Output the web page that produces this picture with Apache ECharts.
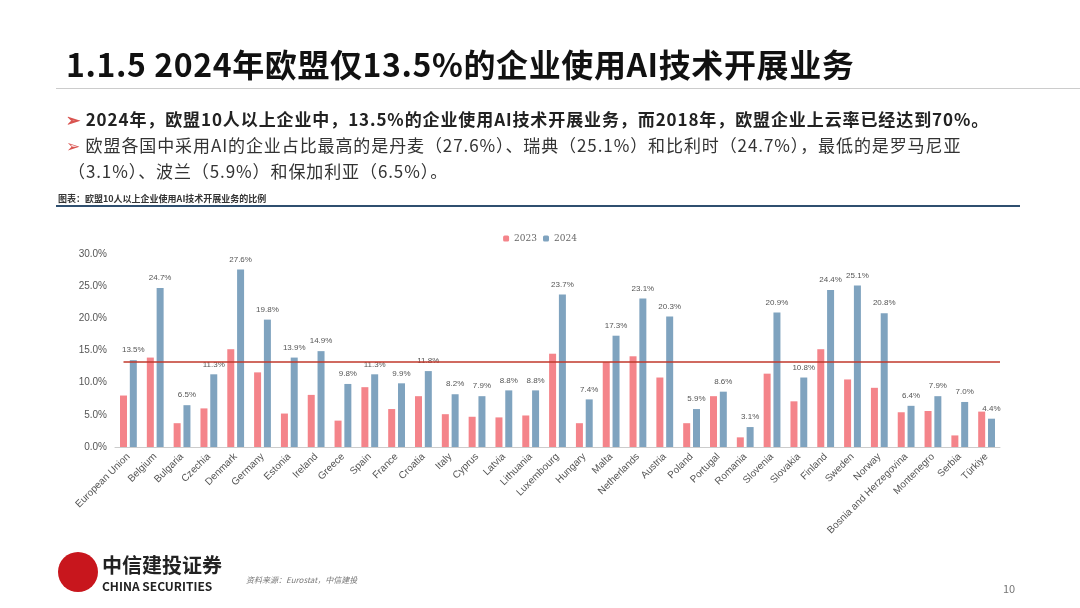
<!DOCTYPE html>
<html><head><meta charset="utf-8">
<script src="https://cdn.jsdelivr.net/npm/echarts@6/dist/echarts.min.js"></script>
<style>
body{margin:0;width:1080px;height:608px;position:relative;background:#fff;font-family:"Noto Sans CJK SC","Noto Sans",sans-serif;overflow:hidden}
#c{position:absolute;left:0;top:0;width:1080px;height:608px}
.t{position:absolute;white-space:nowrap}
</style></head><body>
<div id="c"></div>
<div class="t" style="left:66px;top:40px;font-size:32px;font-weight:bold;color:#111;letter-spacing:0.6px">1.1.5 2024年欧盟仅13.5%的企业使用AI技术开展业务</div>
<div style="position:absolute;left:56px;top:88px;width:1024px;height:1px;background:#ccc"></div>
<div class="t" style="left:66px;top:106px;font-size:17px;font-weight:bold;color:#222;letter-spacing:0.9px"><span style="color:#d9534f">➢</span> 2024年，欧盟10人以上企业中，13.5%的企业使用AI技术开展业务，而2018年，欧盟企业上云率已经达到70%。</div>
<div class="t" style="left:66px;top:132px;font-size:17px;color:#333;letter-spacing:0.9px"><span style="color:#d9534f">➢</span> 欧盟各国中采用AI的企业占比最高的是丹麦（27.6%）、瑞典（25.1%）和比利时（24.7%），最低的是罗马尼亚</div>
<div class="t" style="left:68px;top:158px;font-size:17px;color:#333;letter-spacing:0.9px">（3.1%）、波兰（5.9%）和保加利亚（6.5%）。</div>
<div class="t" style="left:58px;top:192px;font-size:9px;font-weight:bold;color:#333">图表：欧盟10人以上企业使用AI技术开展业务的比例</div>
<div style="position:absolute;left:56px;top:205px;width:964px;height:2px;background:#2f4f6f"></div>
<div style="position:absolute;left:58px;top:552px;width:40px;height:40px;border-radius:50%;background:#c8161d"></div>
<div class="t" style="left:102px;top:550px;font-size:20px;font-weight:bold;color:#222;font-family:'Noto Sans CJK SC'">中信建投证券</div>
<div class="t" style="left:102px;top:577px;font-size:12px;font-weight:bold;color:#222">CHINA SECURITIES</div>
<div class="t" style="left:246px;top:574px;font-size:8px;font-style:italic;color:#777">资料来源：Eurostat，中信建投</div>
<div class="t" style="left:1003px;top:580px;font-size:11px;color:#777">10</div>
<script>
const categories=["European Union","Belgium","Bulgaria","Czechia","Denmark","Germany","Estonia","Ireland","Greece","Spain","France","Croatia","Italy","Cyprus","Latvia","Lithuania","Luxembourg","Hungary","Malta","Netherlands","Austria","Poland","Portugal","Romania","Slovenia","Slovakia","Finland","Sweden","Norway","Bosnia and Herzegovina","Montenegro","Serbia","Türkiye"];
const v2023=[8.0,13.9,3.7,6.0,15.2,11.6,5.2,8.1,4.1,9.3,5.9,7.9,5.1,4.7,4.6,4.9,14.5,3.7,13.2,14.1,10.8,3.7,7.9,1.5,11.4,7.1,15.2,10.5,9.2,5.4,5.6,1.8,5.5];
const v2024=[13.5,24.7,6.5,11.3,27.6,19.8,13.9,14.9,9.8,11.3,9.9,11.8,8.2,7.9,8.8,8.8,23.7,7.4,17.3,23.1,20.3,5.9,8.6,3.1,20.9,10.8,24.4,25.1,20.8,6.4,7.9,7.0,4.4];
const refLine=13.2;
const ch=echarts.init(document.getElementById('c'));
ch.setOption({
 animation:false,
 legend:{top:229,left:'center',itemWidth:6,itemHeight:6,itemGap:6,textStyle:{fontSize:9,color:'#666',fontFamily:'DejaVu Serif'},data:['2023','2024']},
 grid:{left:115,right:80,top:254,bottom:161},
 xAxis:{type:'category',data:categories,axisTick:{show:false},axisLine:{lineStyle:{color:'#ccc'}},
  axisLabel:{rotate:45,interval:0,fontSize:10,color:'#555',margin:8}},
 yAxis:{type:'value',min:0,max:30,interval:5,splitLine:{show:false},
  axisLabel:{formatter:v=>v.toFixed(1)+'%',fontSize:10,color:'#555'}},
 series:[
  {name:'2023',type:'bar',data:v2023,barWidth:7,barGap:'40%',itemStyle:{color:'#f4848a'},
   markLine:{symbol:'none',silent:true,label:{show:false},lineStyle:{color:'#c0392b',width:1.5,type:'solid'},
    data:[[{xAxis:0,yAxis:refLine},{x:1000,yAxis:refLine}]]}},
  {name:'2024',type:'bar',data:v2024,barWidth:7,itemStyle:{color:'#7fa3bf'},
   label:{show:true,position:'top',distance:6,fontSize:8,color:'#555',formatter:p=>p.value.toFixed(1)+'%'}}
 ]
});
</script>
</body></html>
